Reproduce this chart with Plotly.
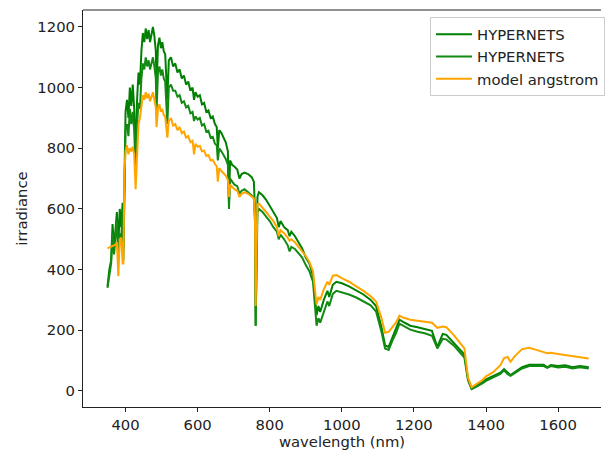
import plotly.graph_objects as go

# Spectral grid (nm) shared by the three curves
wavelength = [
    350, 355, 360, 364, 368, 372, 376, 380, 384, 388, 392, 394, 397, 400, 404, 408,
    412, 416, 420, 424, 428, 432, 436, 440, 444, 448, 452, 456, 460, 464, 468, 472,
    476, 480, 484, 486, 490, 494, 498, 502, 506, 510, 516, 520, 526, 532, 538, 544,
    550, 556, 562, 568, 574, 580, 586, 590, 594, 600, 606, 612, 618, 624, 630, 636,
    642, 648, 653, 656, 660, 666, 672, 678, 684, 687, 690, 696, 702, 710, 716, 722,
    730, 740, 750, 756, 759, 761, 763, 766, 770, 780, 790, 800, 810, 820, 825, 830,
    840, 850, 855, 860, 870, 880, 890, 900, 910, 920, 930, 935, 940, 950, 960, 965,
    975, 985, 1000, 1020, 1040, 1060, 1080, 1095, 1110, 1120, 1130, 1140, 1150, 1160,
    1170, 1190, 1210, 1230, 1250, 1265, 1280, 1290, 1310, 1330, 1340, 1350, 1360,
    1370, 1380, 1390, 1400, 1420, 1440, 1450, 1460, 1468, 1480, 1500, 1520, 1540,
    1560, 1570, 1580, 1600, 1620, 1640, 1660, 1685,
]

# HYPERNETS irradiance, first acquisition
hypernets_a = [
    345, 400, 430, 550, 470, 520, 590, 480, 600, 540, 620, 470, 700, 920, 960, 900,
    1000, 940, 1010, 930, 770, 960, 1050, 1010, 1120, 1180, 1150, 1195, 1160, 1190, 1150, 1170,
    1200, 1170, 1120, 1000, 1140, 1165, 1130, 1150, 1120, 1110, 960, 1090, 1100, 1070, 1080, 1050,
    1060, 1030, 1040, 1010, 1020, 990, 1000, 960, 985, 970, 975, 945, 950, 920, 925, 900,
    905, 880, 870, 800, 860, 850, 835, 820, 790, 620, 760, 745, 740, 730, 700, 715,
    720, 715, 705, 690, 600, 215, 420, 640, 655, 645, 630, 610, 590, 570, 540, 560,
    540, 530, 510, 525, 510, 490, 470, 440, 420, 380, 250, 280, 260, 300, 330, 310,
    350, 360, 355, 345, 332, 318, 300, 280, 210, 150, 145, 175, 200, 235,
    228, 215, 210, 205, 198, 145, 188, 185, 160, 135, 120, 40, 8,
    15, 22, 28, 38, 48, 60, 72, 60, 52, 62, 78, 86, 85,
    86, 78, 85, 82, 85, 78, 82, 78,
]

# HYPERNETS irradiance, second acquisition
hypernets_b = [
    340, 380, 420, 520, 450, 500, 560, 460, 520, 500, 600, 430, 650, 860, 880, 840,
    930, 880, 920, 860, 720, 880, 950, 930, 1030, 1080, 1060, 1100, 1070, 1090, 1060, 1080,
    1100, 1070, 1030, 920, 1050, 1070, 1040, 1060, 1030, 1020, 880, 1000, 1010, 990, 990, 970,
    975, 950, 955, 935, 940, 915, 920, 890, 905, 895, 900, 875, 880, 855, 858, 835,
    838, 815, 810, 760, 800, 790, 778, 765, 745, 600, 700, 690, 680, 675, 650, 660,
    665, 655, 645, 635, 560, 215, 400, 590, 600, 590, 575, 560, 540, 525, 500, 515,
    500, 480, 460, 475, 468, 455, 440, 415, 395, 360, 215, 240, 225, 260, 295, 280,
    320, 330, 325, 318, 308, 295, 282, 262, 195, 140, 135, 165, 190, 222,
    215, 202, 195, 190, 182, 140, 172, 170, 150, 125, 110, 35, 6,
    12, 18, 25, 33, 44, 56, 68, 55, 50, 58, 74, 82, 82,
    82, 76, 82, 77, 80, 74, 78, 74,
]

# Modelled irradiance (Angstrom aerosol model)
model_angstrom = [
    470, 472, 474, 478, 480, 482, 490, 378, 500, 505, 420, 420, 720, 790, 810, 780,
    800, 790, 805, 780, 665, 800, 880, 900, 940, 975, 960, 985, 965, 980, 955, 970,
    985, 960, 935, 870, 930, 945, 920, 930, 910, 905, 835, 890, 900, 875, 880, 860,
    870, 850, 855, 835, 840, 820, 825, 780, 815, 805, 808, 790, 792, 775, 778, 760,
    762, 748, 740, 690, 735, 725, 718, 710, 695, 640, 680, 672, 665, 660, 640, 650,
    655, 650, 642, 635, 580, 280, 450, 615, 618, 605, 590, 575, 560, 540, 510, 530,
    520, 505, 495, 500, 490, 475, 460, 445, 425, 395, 285, 310, 300, 335, 360, 350,
    380, 382, 372, 360, 345, 330, 312, 295, 240, 192, 195, 212, 225, 248,
    242, 235, 232, 228, 225, 208, 212, 210, 185, 155, 140, 45, 12,
    20, 28, 36, 48, 62, 85, 108, 112, 96, 115, 138, 142, 136,
    128, 124, 126, 122, 119, 116, 112, 107,
]

series = [
    ("HYPERNETS", hypernets_a, "#008000"),
    ("HYPERNETS", hypernets_b, "#138a13"),
    ("model angstrom", model_angstrom, "#ffa500"),
]

fig = go.Figure()
for name, values, color in series:
    fig.add_trace(go.Scatter(
        x=wavelength, y=values, mode="lines", name=name,
        line=dict(color=color, width=2),
    ))

font = dict(family="DejaVu Sans, sans-serif", size=14.8, color="#222222")

fig.update_layout(
    width=605, height=453,
    margin=dict(l=83, r=0, t=10, b=46),
    paper_bgcolor="white", plot_bgcolor="white",
    font=font,
    showlegend=True,
    legend=dict(
        x=0.670, y=0.982, xanchor="left", yanchor="top",
        bgcolor="rgba(255,255,255,0.8)", bordercolor="#cccccc", borderwidth=1,
        font=font, itemwidth=36, tracegroupgap=0,
    ),
    xaxis=dict(
        range=[282, 1719], tickvals=[400, 600, 800, 1000, 1200, 1400, 1600],
        showgrid=False, zeroline=False, showline=True, linecolor="#222222", linewidth=1,
        ticks="outside", ticklen=4, tickcolor="#222222",
        title=dict(text="wavelength (nm)", font=font, standoff=4),
    ),
    yaxis=dict(
        range=[-53, 1256], tickvals=[0, 200, 400, 600, 800, 1000, 1200],
        showgrid=False, zeroline=False, showline=True, linecolor="#222222", linewidth=1,
        ticks="outside", ticklen=4, tickcolor="#222222",
        title=dict(text="irradiance", font=font, standoff=6),
    ),
    shapes=[dict(type="line", xref="paper", yref="paper", x0=0, x1=1, y0=1, y1=1,
                 line=dict(color="#222222", width=1))],
)

fig.write_html("out.html")
